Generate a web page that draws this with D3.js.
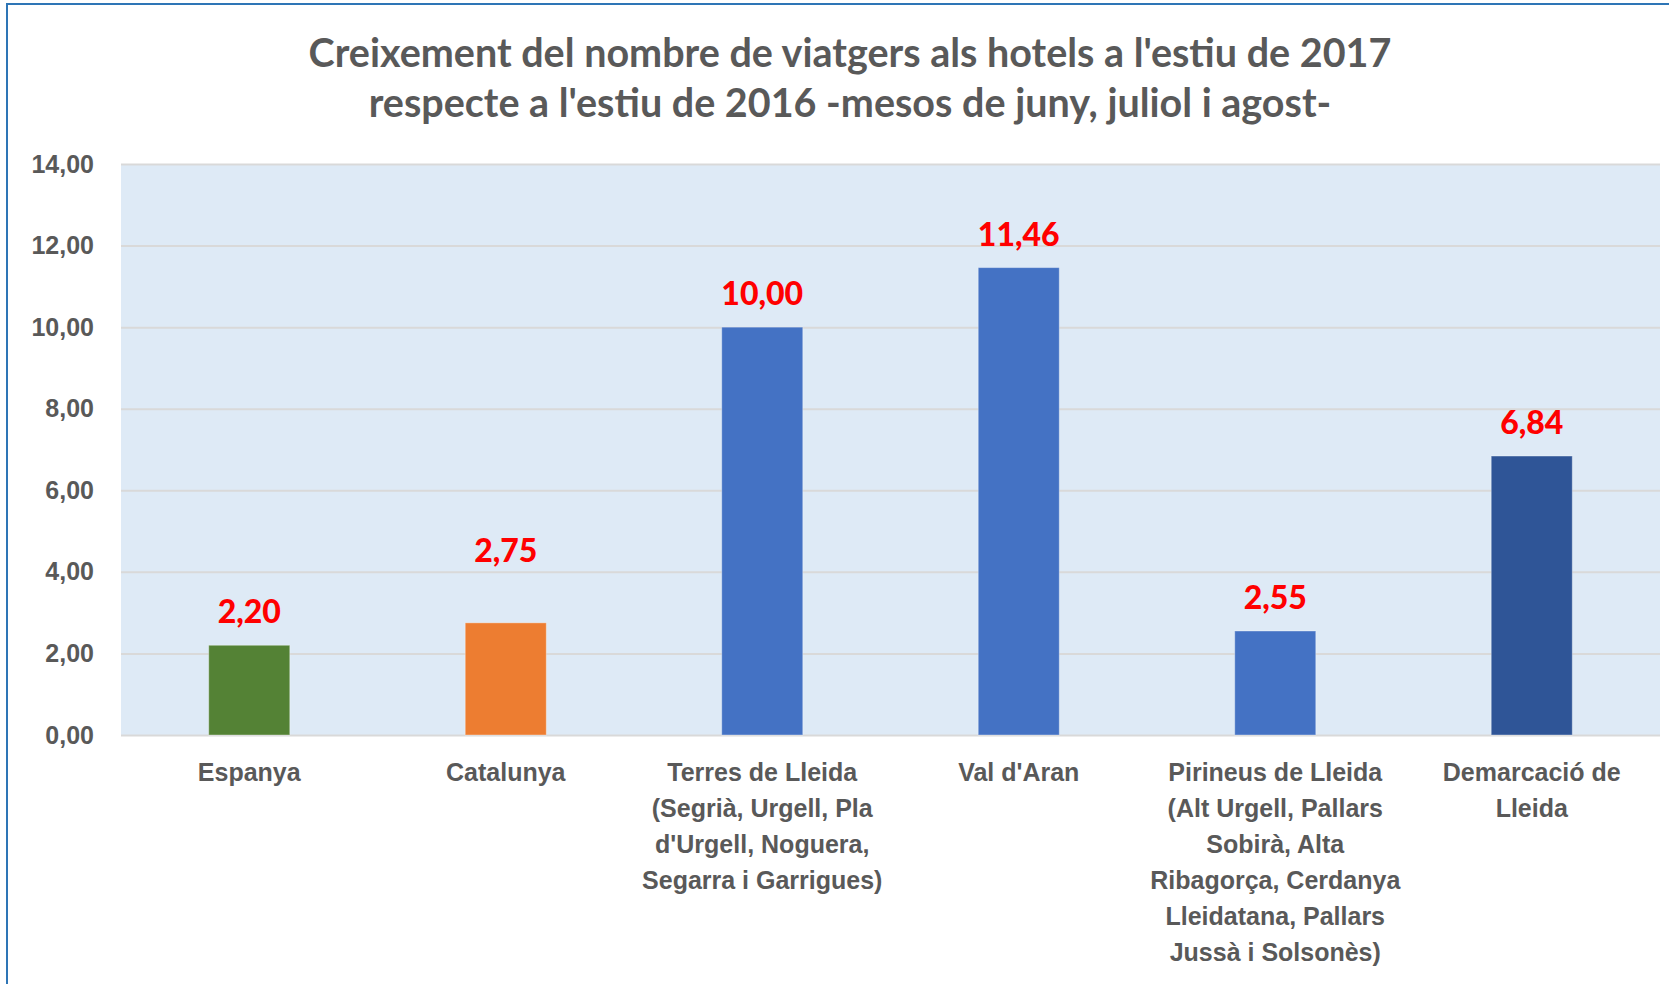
<!DOCTYPE html>
<html>
<head>
<meta charset="utf-8">
<script src="https://cdn.jsdelivr.net/npm/d3@7"></script>
<style>
  body { margin: 0; background: #fff; }
  svg { font-family: 'Lato', 'Open Sans', sans-serif; }
  .axis text { fill: #595959; font-weight: bold; }
</style>
</head>
<body>
<svg width="1669" height="984"></svg>
<script>
const titleLines = [
  "Creixement del nombre de viatgers als hotels a l'estiu de 2017",
  "respecte a l'estiu de 2016 -mesos de juny, juliol i agost-"
];
const categories = [
  'Espanya',
  'Catalunya',
  "Terres de Lleida\n(Segrià, Urgell, Pla\nd'Urgell, Noguera,\nSegarra i Garrigues)",
  "Val d'Aran",
  'Pirineus de Lleida\n(Alt Urgell, Pallars\nSobirà, Alta\nRibagorça, Cerdanya\nLleidatana, Pallars\nJussà i Solsonès)',
  'Demarcació de\nLleida'
];
const values = [2.20, 2.75, 10.00, 11.46, 2.55, 6.84];
const barColors = ['#548235', '#ED7D31', '#4472C4', '#4472C4', '#4472C4', '#2F5597'];
const yTicks = [0, 2, 4, 6, 8, 10, 12, 14];

const locale = d3.formatLocale({ decimal: ',', thousands: '.', grouping: [3], currency: ['', '€'] });
const formatValue = locale.format('.2f');

const prepareSvg = () => {
  const svg = d3.select('svg');
  const svgWidth = +svg.attr('width');
  const svgHeight = +svg.attr('height');
  return { svg, svgWidth, svgHeight };
};

const renderChart = () => {
  const { svg } = prepareSvg();
  // chart frame (only top and left edges fall inside the picture)
  svg.append('rect')
    .attr('x', 7).attr('y', 4)
    .attr('width', 1720).attr('height', 1020)
    .attr('fill', 'none')
    .attr('stroke', '#2E75B6')
    .attr('stroke-width', 2);

  const margin = { top: 164, left: 121 };
  const innerWidth = 1539;
  const innerHeight = 571;

  const xScale = d3.scaleBand()
    .domain(categories)
    .range([0, innerWidth])
    .paddingInner(0.684)
    .paddingOuter(0.342);
  const yScale = d3.scaleLinear()
    .domain([0, 14])
    .range([innerHeight, 0]);

  const visGroup = svg.append('g')
    .attr('transform', `translate(${margin.left}, ${margin.top})`);

  visGroup.append('rect')
    .attr('width', innerWidth)
    .attr('height', innerHeight)
    .attr('fill', '#DEEAF6');

  // y axis with gridlines
  const yAxisGroup = visGroup.append('g').attr('class', 'axis y-axis');
  d3.axisLeft(yScale)
    .tickValues(yTicks)
    .tickFormat(formatValue)
    .tickSize(-innerWidth)
    .tickPadding(27)(yAxisGroup);
  yAxisGroup.select('.domain').remove();
  yAxisGroup.selectAll('.tick line')
    .attr('stroke', '#D9D9D9')
    .attr('stroke-width', 2)
    .attr('x1', 0);
  yAxisGroup.selectAll('.tick text')
    .style('font-size', '25px');

  // bars
  visGroup.append('g').selectAll('rect.bar')
    .data(values)
    .enter()
    .append('rect')
      .attr('class', 'bar')
      .attr('x', (d, i) => xScale(categories[i]))
      .attr('y', d => yScale(d))
      .attr('width', xScale.bandwidth())
      .attr('height', d => innerHeight - yScale(d))
      .attr('fill', (d, i) => barColors[i])
      .attr('stroke', 'rgba(255,255,255,0.35)')
      .attr('stroke-width', 1);

  // value labels (the Catalunya one was dragged up in the original)
  const labelLift = i => i === 1 ? 61 : 22;
  visGroup.append('g').selectAll('text.value')
    .data(values)
    .enter()
    .append('text')
      .attr('class', 'value')
      .attr('x', (d, i) => xScale(categories[i]) + xScale.bandwidth() / 2)
      .attr('y', (d, i) => yScale(d) - labelLift(i))
      .attr('text-anchor', 'middle')
      .attr('fill', '#FF0000')
      .style('font-size', '32px')
      .style('font-weight', '900')
      .text(formatValue);

  // x axis with wrapped category labels
  const xAxisGroup = visGroup.append('g')
    .attr('class', 'axis x-axis')
    .attr('transform', `translate(0, ${innerHeight})`);
  d3.axisBottom(xScale).tickSize(0).tickFormat('')(xAxisGroup);
  xAxisGroup.select('.domain').remove();
  xAxisGroup.selectAll('.tick text').each(function(d) {
    const text = d3.select(this)
      .attr('y', 46)
      .attr('dy', null)
      .style('font-size', '25px');
    d.split('\n').forEach((line, i) => {
      text.append('tspan')
        .attr('x', 0)
        .attr('y', 46 + i * 36)
        .text(line);
    });
  });

  // title
  svg.append('g').selectAll('text.title')
    .data(titleLines)
    .enter()
    .append('text')
      .attr('class', 'title')
      .attr('x', 850)
      .attr('y', (d, i) => 67 + i * 50)
      .attr('text-anchor', 'middle')
      .attr('fill', '#595959')
      .style('font-size', '39.5px')
      .style('font-weight', 'bold')
      .text(d => d);
};

renderChart();
</script>
</body>
</html>
